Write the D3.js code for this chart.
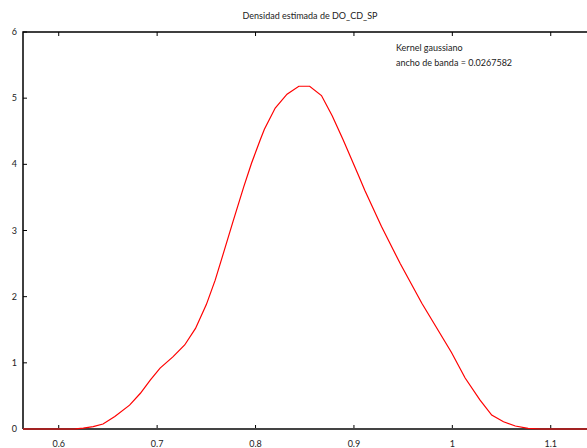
<!DOCTYPE html>
<html>
<head>
<meta charset="utf-8">
<script src="https://cdn.jsdelivr.net/npm/d3@7"></script>
<style>
  body { margin: 0; background: #fff; }
  text { font-family: Lato, "Open Sans", sans-serif; font-size: 9px; fill: #222; }
</style>
</head>
<body>
<div id="chart"></div>
<script>
// KDE curve
const xVals = [0.5637, 0.600, 0.617, 0.625, 0.635, 0.645, 0.657, 0.672, 0.683, 0.693,
  0.703, 0.716, 0.728, 0.739, 0.750, 0.759, 0.767, 0.777, 0.788, 0.796,
  0.805, 0.809, 0.820, 0.832, 0.844, 0.855, 0.867, 0.878, 0.889, 0.905,
  0.911, 0.928, 0.947, 0.969, 0.999, 1.013, 1.028, 1.040, 1.052, 1.064,
  1.077, 1.090, 1.147];
const density = [0, 0, 0.003, 0.012, 0.035, 0.075, 0.19, 0.36, 0.54, 0.74,
  0.92, 1.09, 1.27, 1.52, 1.88, 2.25, 2.64, 3.13, 3.66, 4.02,
  4.38, 4.53, 4.85, 5.06, 5.18, 5.18, 5.04, 4.73, 4.37, 3.82,
  3.61, 3.06, 2.50, 1.90, 1.16, 0.77, 0.44, 0.21, 0.11, 0.045,
  0.01, 0, 0];
const xTicks = [0.6, 0.7, 0.8, 0.9, 1, 1.1];
const yTicks = [0, 1, 2, 3, 4, 5, 6];
const title = 'Densidad estimada de DO_CD_SP';
const legendLines = ['Kernel gaussiano', 'ancho de banda = 0.0267582'];

const width = 587, height = 448;
const margin = { top: 32, left: 23, bottom: 19 };
const plotRight = 597; // plot box runs past the right edge of the picture

const svg = d3.select('#chart').append('svg')
  .attr('width', width)
  .attr('height', height);

const x = d3.scaleLinear().domain([0.5637, 1.147]).range([margin.left, plotRight]);
const y = d3.scaleLinear().domain([0, 6]).range([height - margin.bottom, margin.top]);

// title
svg.append('text')
  .attr('x', (margin.left + plotRight) / 2)
  .attr('y', 19)
  .attr('text-anchor', 'middle')
  .text(title);

// ticks (gnuplot style, pointing inward, mirrored on top)
const tickLen = 4;
svg.append('g').selectAll('line.xb')
  .data(xTicks).join('line')
  .attr('x1', d => x(d)).attr('x2', d => x(d))
  .attr('y1', y(0)).attr('y2', y(0) - tickLen)
  .attr('stroke', '#000');
svg.append('g').selectAll('line.xt')
  .data(xTicks).join('line')
  .attr('x1', d => x(d)).attr('x2', d => x(d))
  .attr('y1', y(6)).attr('y2', y(6) + tickLen)
  .attr('stroke', '#000');
svg.append('g').selectAll('line')
  .data(yTicks).join('line')
  .attr('x1', margin.left).attr('x2', margin.left + tickLen)
  .attr('y1', d => y(d)).attr('y2', d => y(d))
  .attr('stroke', '#000');

// tick labels
svg.append('g').selectAll('text')
  .data(xTicks).join('text')
  .attr('x', d => x(d))
  .attr('y', 447)
  .attr('text-anchor', 'middle')
  .text(d => d);
svg.append('g').selectAll('text')
  .data(yTicks).join('text')
  .attr('x', 17)
  .attr('y', d => y(d) + 3)
  .attr('text-anchor', 'end')
  .text(d => d);

// border: left, top, bottom
svg.append('path')
  .attr('d', `M${plotRight},${y(6)}H${margin.left}V${y(0)}`)
  .attr('fill', 'none')
  .attr('stroke', '#000')
  .attr('stroke-width', 1.5);
svg.append('line')
  .attr('x1', margin.left).attr('x2', plotRight)
  .attr('y1', y(0)).attr('y2', y(0))
  .attr('stroke', '#444')
  .attr('stroke-width', 2);

// legend text
svg.append('g').selectAll('text')
  .data(legendLines).join('text')
  .attr('x', 396)
  .attr('y', (d, i) => 51 + i * 15)
  .text(d => d);

// curve
const line = d3.line()
  .x((d, i) => x(xVals[i]))
  .y(d => y(d));
svg.append('path')
  .datum(density)
  .attr('d', line)
  .attr('fill', 'none')
  .attr('stroke', '#f00')
  .attr('stroke-width', 1.2);
</script>
</body>
</html>
